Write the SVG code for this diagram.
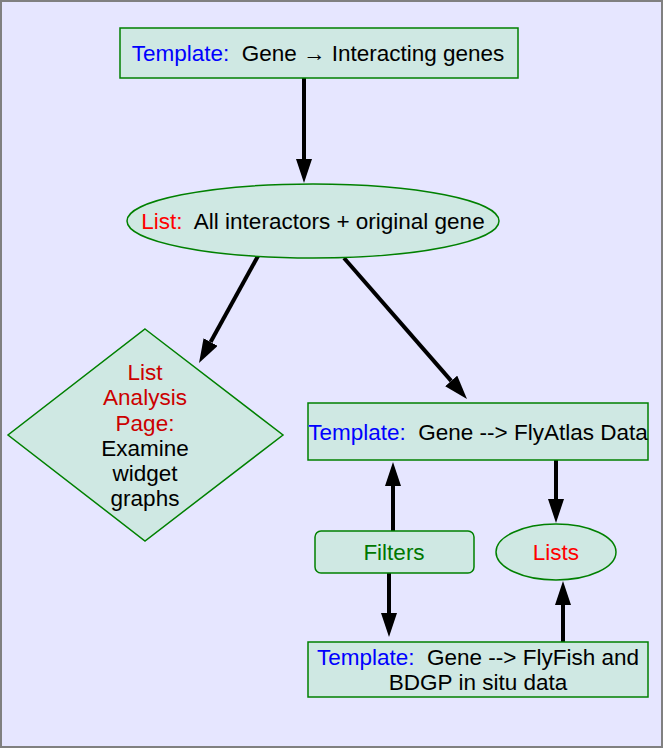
<svg xmlns="http://www.w3.org/2000/svg" width="663" height="748" viewBox="0 0 663 748">
<style>
.node{fill:#cfe8e3;stroke:#008000;stroke-width:1.5}
text{font-family:"Liberation Sans",Arial,sans-serif;font-size:22.5px;fill:#000;white-space:pre}
.blue{fill:#0000ff}
.red{fill:#ff0000}
.dred{fill:#cc0000}
.green{fill:#007700}
.conn{stroke:#000;stroke-width:4;fill:none;marker-end:url(#ah)}
</style>
<defs>
<marker id="ah" viewBox="0 -8 24 16" refX="0" refY="0" markerWidth="24" markerHeight="16" markerUnits="userSpaceOnUse" orient="auto">
<path d="M0,-8 L24,0 L0,8 z" fill="#000"/>
</marker>
</defs>
<rect x="1" y="1" width="661" height="746" fill="#e6e6ff" stroke="#808080" stroke-width="2"/>
<g id="connectors">
<line class="conn" x1="304" y1="78" x2="304" y2="159"/>
<line class="conn" x1="258" y1="256" x2="210.6" y2="342"/>
<line class="conn" x1="344" y1="258" x2="451.2" y2="380.9"/>
<line class="conn" x1="393" y1="531" x2="393" y2="486"/>
<line class="conn" x1="389" y1="573" x2="389" y2="613"/>
<line class="conn" x1="556" y1="460" x2="556" y2="499"/>
<line class="conn" x1="563" y1="642" x2="563" y2="605"/>
</g>
<g id="n1">
<rect class="node" x="120" y="28" width="398" height="50"/>
<text x="318" y="61" text-anchor="middle" xml:space="preserve"><tspan class="blue">Template:</tspan>  Gene → Interacting genes</text>
</g>
<g id="n2">
<ellipse class="node" cx="313" cy="221" rx="186" ry="37"/>
<text x="313" y="229" text-anchor="middle" xml:space="preserve"><tspan class="red">List:</tspan>  All interactors + original gene</text>
</g>
<g id="n3">
<polygon class="node" points="145,329 283,435 145,541 8,435"/>
<text x="145" y="380" text-anchor="middle" class="dred">List</text>
<text x="145" y="405" text-anchor="middle" class="dred">Analysis</text>
<text x="145" y="431" text-anchor="middle" class="dred">Page:</text>
<text x="145" y="456" text-anchor="middle">Examine</text>
<text x="145" y="481" text-anchor="middle">widget</text>
<text x="145" y="506" text-anchor="middle">graphs</text>
</g>
<g id="n4">
<rect class="node" x="308" y="403" width="340" height="57"/>
<text x="478" y="440" text-anchor="middle" xml:space="preserve"><tspan class="blue">Template:</tspan>  Gene --&gt; FlyAtlas Data</text>
</g>
<g id="n5">
<rect class="node" x="315" y="531" width="159" height="42" rx="6"/>
<text x="394" y="560" text-anchor="middle" class="green">Filters</text>
</g>
<g id="n6">
<ellipse class="node" cx="556" cy="552" rx="60" ry="28"/>
<text x="556" y="560" text-anchor="middle" class="red">Lists</text>
</g>
<g id="n7">
<rect class="node" x="308" y="642" width="340" height="55"/>
<text x="478" y="665" text-anchor="middle" xml:space="preserve"><tspan class="blue">Template:</tspan>  Gene --&gt; FlyFish and</text>
<text x="478" y="690" text-anchor="middle">BDGP in situ data</text>
</g>
</svg>
